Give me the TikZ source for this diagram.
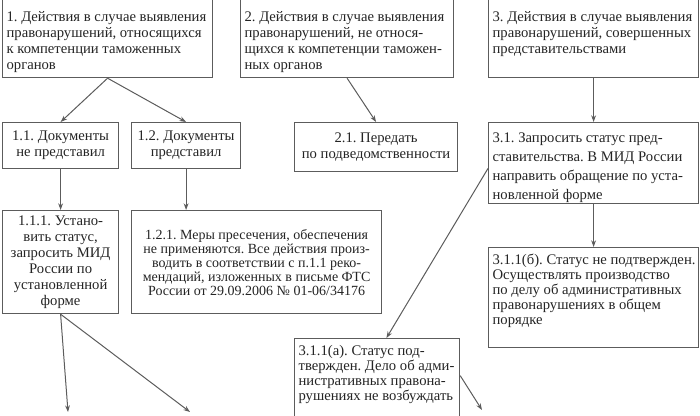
\documentclass[tikz,border=0pt]{standalone}
\usepackage{fontspec}
\setmainfont{Liberation Serif}
\usepackage{tikz}
\usetikzlibrary{arrows.meta}
\definecolor{framegray}{HTML}{5C5C5C}
\definecolor{inkgray}{HTML}{242424}
\frenchspacing
\newcommand{\toptext}[3]{\parbox[t][#2][t]{#1}{\begin{tabular}[t]{@{}l@{}}#3\end{tabular}}}

\begin{document}
\begin{tikzpicture}[x=0.75pt,y=-0.75pt,
  lbox/.style={draw=framegray,line width=0.9pt,anchor=north west,inner xsep=3pt,inner ysep=5pt,text=inkgray,font=\fontsize{11}{12}\selectfont},
  cbox/.style={lbox,align=center,inner ysep=2pt},
  arr/.style={draw=framegray,line width=0.75pt,-{Stealth[length=5pt,width=3.6pt]}}]
\useasboundingbox (0,0) rectangle (700,415);
\node[lbox,inner ysep=8pt] (box1) at (2,-1)
{\toptext{151.5pt}{42.5pt}{1. Действия в случае выявления\\ правонарушений, относящихся\\ к компетенции таможенных\\ органов}};
\node[lbox,inner ysep=8pt] (box2) at (240,-1)
{\toptext{153.75pt}{42.5pt}{2. Действия в случае выявления\\ правонарушений, не относя-\\ щихся к компетенции таможен-\\ ных органов}};
\node[lbox,inner ysep=8pt] (box3) at (488,-1)
{\toptext{151.5pt}{42.5pt}{3. Действия в случае выявления\\ правонарушений, совершенных\\ представительствами}};
\node[cbox,minimum width=87pt,minimum height=34.5pt] (box11) at (2,122)
{1.1. Документы\\ не представил};
\node[cbox,minimum width=81.75pt,minimum height=34.5pt] (box12) at (131,122)
{1.2. Документы\\ представил};
\node[cbox,minimum width=122.25pt,minimum height=36.75pt] (box21) at (294,122)
{2.1. Передать\\ по подведомственности};
\node[lbox,font=\fontsize{11}{14.25}\selectfont] (box31) at (488,122)
{\toptext{151.5pt}{50.75pt}{3.1. Запросить статус пред-\\ ставительства. В МИД России\\ направить обращение по уста-\\ новленной форме}};
\node[cbox,minimum width=87pt,minimum height=77.25pt] (box111) at (2,210)
{1.1.1. Устано-\\ вить статус,\\ запросить МИД\\ России по\\ установленной\\ форме};
\node[cbox,minimum width=187.5pt,minimum height=77.25pt,font=\fontsize{10.5}{10.5}\selectfont] (box121) at (131,210)
{1.2.1. Меры пресечения, обеспечения\\ не применяются. Все действия произ-\\ водить в соответствии с п.1.1 реко-\\ мендаций, изложенных в письме ФТС\\ России от 29.09.2006 № 01-06/34176};
\node[lbox,font=\fontsize{11}{11.25}\selectfont] (box311b) at (488,247)
{\toptext{151.5pt}{65pt}{3.1.1(б). Статус не подтвержден.\\ Осуществлять производство\\ по делу об административных\\ правонарушениях в общем\\ порядке}};
\node[lbox,font=\fontsize{11}{11.25}\selectfont] (box311a) at (294,338)
{\toptext{117.75pt}{57.5pt}{3.1.1(а). Статус под-\\ твержден. Дело об адми-\\ нистративных правона-\\ рушениях не возбуждать}};
\coordinate (end1) at (68,412);
\coordinate (end2) at (190,412);
\coordinate (end3) at (482,410);
\draw[arr] (box1.south) -- (box11.north);
\draw[arr] (box1.south) -- (box12.north);
\draw[arr] (box2.south) -- (box21.north);
\draw[arr] (box3.south) -- (box31.north);
\draw[arr] (box11.south) -- (box111.north);
\draw[arr] (box12.south) -- (box12.south |- box121.north);
\draw[arr] (box31.south) -- (box311b.north);
\draw[arr] ([yshift=-4pt]box31.west) -- ([xshift=7pt]box311a.north);
\draw[arr] ([yshift=6pt]box311a.east) -- (end3);
\draw[arr] (box111.south) -- (end1);
\draw[arr] (box111.south) -- (end2);
\end{tikzpicture}
\end{document}
